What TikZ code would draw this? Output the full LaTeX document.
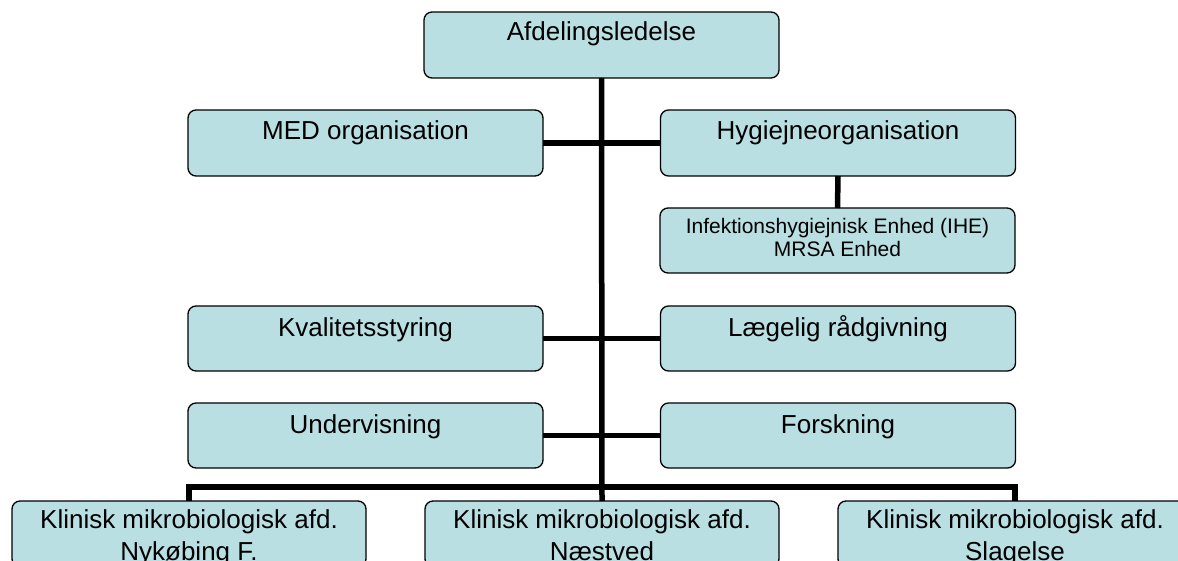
\documentclass[tikz,border=0pt]{standalone}
\usepackage{fontspec}
\setmainfont{Liberation Sans}
\definecolor{boxfill}{RGB}{185,223,227}
\begin{document}
\begin{tikzpicture}[x=1pt,y=-1pt,
  box/.style={draw=black, fill=boxfill, line width=1.3pt, rounded corners=8pt,
    minimum width=355pt, minimum height=66pt, inner sep=0pt, outer sep=0pt},
  conn/.style={draw=black, line width=5.5pt, line join=miter},
  lbl/.style={font=\fontsize{26}{31}\selectfont, anchor=base, inner sep=0pt},
  smalllbl/.style={font=\fontsize{21}{23}\selectfont, anchor=base, inner sep=0pt}]
\useasboundingbox (0,0) rectangle (1178,561);

% boxes
\node[box] (top) at (601.5,45) {};
\node[box] (med) at (365.5,143) {};
\node[box] (hyg) at (838,143) {};
\node[box, minimum height=65pt] (ihe) at (837.5,240.5) {};
\node[box, minimum height=65pt] (kval) at (365.5,338.5) {};
\node[box, minimum height=65pt] (laeg) at (838,338.5) {};
\node[box, minimum height=65pt] (underv) at (365.5,435.5) {};
\node[box, minimum height=65pt] (forsk) at (838,435.5) {};
\node[box, minimum width=354pt] (nyk) at (189,534) {};
\node[box, minimum width=354pt] (nae) at (602,534) {};
\node[box, minimum width=354pt] (slag) at (1015,534) {};
\coordinate (bus) at (602,487);

% connectors
\draw[conn] (top.south) -- (nae.north);
\draw[conn] (med.east) -- (hyg.west);
\draw[conn] (hyg.south) -- (ihe.north);
\draw[conn] (kval.east) -- (laeg.west);
\draw[conn] (underv.east) -- (forsk.west);
\draw[conn] (nyk.north) |- (bus) -| (slag.north);

% texts
\node[lbl] (topt) at (601.5,41) {Afdelingsledelse};
\node[lbl] (medt) at (365.5,140) {MED organisation};
\node[lbl] (hygt) at (838,140) {Hygiejneorganisation};
\node[smalllbl] (ihet1) at (837.5,234) {Infektionshygiejnisk Enhed (IHE)};
\node[smalllbl] (ihet2) at (837.5,256.5) {MRSA Enhed};
\node[lbl] (kvalt) at (365.5,336) {Kvalitetsstyring};
\node[lbl] (laegt) at (838,336) {Lægelig rådgivning};
\node[lbl] (undervt) at (365.5,433) {Undervisning};
\node[lbl] (forskt) at (838,433) {Forskning};
\node[lbl] (nykt1) at (189,528.3) {Klinisk mikrobiologisk afd.};
\node[lbl] (nykt2) at (189,560) {Nykøbing F.};
\node[lbl] (naet1) at (602,528.3) {Klinisk mikrobiologisk afd.};
\node[lbl] (naet2) at (602,560) {Næstved};
\node[lbl] (slagt1) at (1015,528.3) {Klinisk mikrobiologisk afd.};
\node[lbl] (slagt2) at (1015,560) {Slagelse};
\end{tikzpicture}
\end{document}
